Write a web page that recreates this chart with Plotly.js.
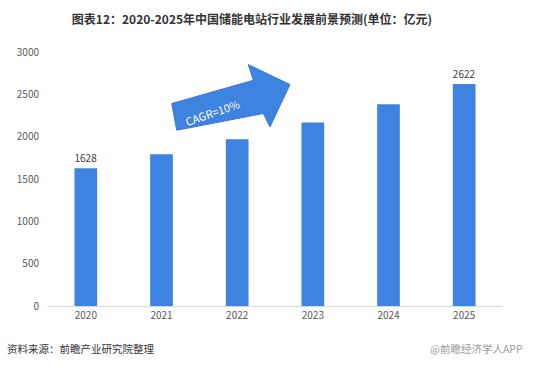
<!DOCTYPE html>
<html>
<head>
<meta charset="utf-8">
<script src="https://cdn.plot.ly/plotly-3.0.1.min.js"></script>
<style>html,body{margin:0;padding:0;background:#fff;}#chart{width:533px;height:368px;}</style>
</head>
<body>
<div id="chart"></div>
<script>
const years = ['2020', '2021', '2022', '2023', '2024', '2025'];
const values = [1628, 1791, 1970, 2167, 2384, 2622];
const yTicks = [0, 500, 1000, 1500, 2000, 2500, 3000];
const titleText = '图表12：2020-2025年中国储能电站行业发展前景预测(单位：亿元)';
const sourceText = '资料来源：前瞻产业研究院整理';
const cagrText = 'CAGR=10%';

const FONT = '"Noto Sans CJK SC", "Noto Sans", sans-serif';
const labels = values.map((v, i) => (i === 0 || i === values.length - 1) ? String(v) : '');

const trace = {
  type: 'bar',
  x: years,
  y: values,
  marker: {color: '#3F83E1'},
  text: labels,
  textposition: 'outside',
  cliponaxis: false,
  textfont: {family: FONT, size: 10, color: '#404040'},
  hoverinfo: 'none'
};

// arrow polygon in paper coordinates
const arrowPath = 'M 0.2725 0.7971 L 0.4522 0.8887 L 0.4412 0.9505 L 0.5330 0.8718 L 0.4890 0.7051 L 0.4742 0.7578 L 0.2835 0.6921 Z';

const layout = {
  width: 533, height: 368,
  margin: {l: 48, r: 31, t: 52, b: 62},
  paper_bgcolor: '#ffffff', plot_bgcolor: '#ffffff',
  showlegend: false,
  bargap: 0.70,
  title: {
    text: '<b>' + titleText + '</b>',
    x: 252 / 533, xanchor: 'center', xref: 'container',
    y: 1 - 20 / 368, yanchor: 'middle', yref: 'container',
    font: {family: FONT, size: 12, color: '#333333'}
  },
  xaxis: {
    type: 'category',
    showline: true, linecolor: '#d9d9d9', linewidth: 1,
    ticks: '', showgrid: false,
    tickfont: {family: FONT, size: 10, color: '#595959'}
  },
  yaxis: {
    range: [0, 3000],
    tickvals: yTicks,
    showgrid: false, zeroline: false, showline: false, ticks: '',
    ticklabelstandoff: 8,
    tickfont: {family: FONT, size: 10, color: '#595959'}
  },
  shapes: [{
    type: 'path', xref: 'paper', yref: 'paper', layer: 'below',
    path: arrowPath,
    fillcolor: '#3F83E1', line: {color: '#3A7AD4', width: 1}
  }],
  annotations: [
    {
      text: cagrText, xref: 'paper', yref: 'paper',
      x: 0.3634, y: 0.7629, xanchor: 'center', yanchor: 'middle',
      showarrow: false, textangle: -19,
      font: {family: FONT, size: 11, color: '#ffffff'}
    },
    {
      text: sourceText, xref: 'paper', yref: 'paper',
      x: -43 / 454, y: (306 - 349) / 254.3, xanchor: 'left', yanchor: 'middle',
      showarrow: false,
      font: {family: FONT, size: 10.5, color: '#333333'}
    },
    {
      text: '@前瞻经济学人APP', xref: 'paper', yref: 'paper',
      x: (428 - 48) / 454, y: (306 - 349) / 254.3, xanchor: 'left', yanchor: 'middle',
      showarrow: false,
      font: {family: FONT, size: 10.5, color: '#9a9a9a'}
    }
  ]
};

Plotly.newPlot('chart', [trace], layout, {staticPlot: true, displayModeBar: false});
</script>
</body>
</html>
